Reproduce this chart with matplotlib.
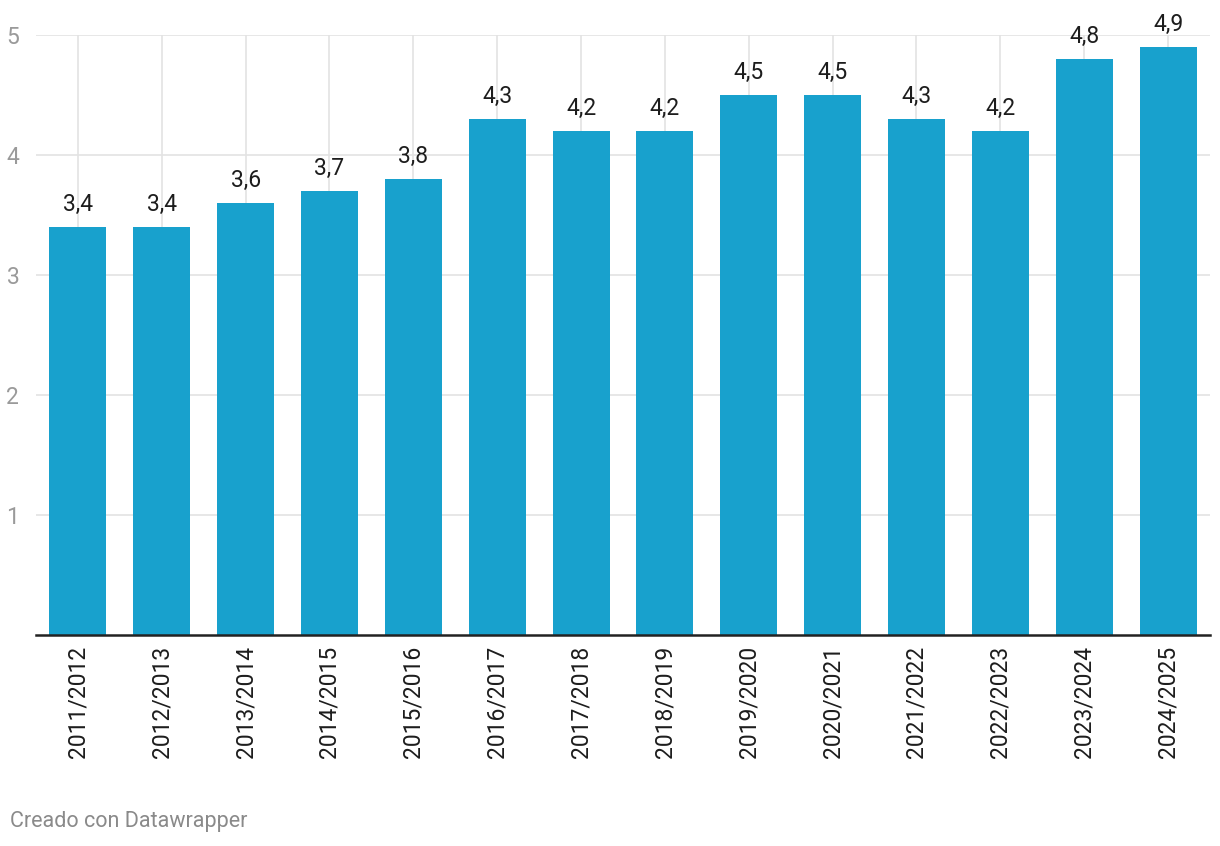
import matplotlib
matplotlib.use('Agg')
import matplotlib.pyplot as plt

seasons = ['2011/2012', '2012/2013', '2013/2014', '2014/2015', '2015/2016',
           '2016/2017', '2017/2018', '2018/2019', '2019/2020', '2020/2021',
           '2021/2022', '2022/2023', '2023/2024', '2024/2025']
values = [3.4, 3.4, 3.6, 3.7, 3.8, 4.3, 4.2, 4.2, 4.5, 4.5, 4.3, 4.2, 4.8, 4.9]
yticks = [1, 2, 3, 4, 5]

plt.rcParams['font.family'] = ['Roboto', 'DejaVu Sans']

fig = plt.figure(figsize=(12.2, 8.46), dpi=100)
ax = fig.add_axes([0.0295, 0.2494, 0.9623, 0.7092])

x = list(range(len(seasons)))
ax.bar(x, values, width=0.68, color='#18a1cd', zorder=2)

# value labels above bars
for xi, v in zip(x, values):
    ax.annotate(('%.1f' % v).replace('.', ','), (xi, v), xytext=(0, 8),
                textcoords='offset points', ha='center', va='bottom',
                fontsize=16.5, color='#1d1d1d', zorder=3)

ax.set_xlim(-0.5, len(seasons) - 0.5)
ax.set_ylim(0, 5)
ax.set_yticks(yticks)
ax.set_yticklabels([str(t) for t in yticks])
ax.set_xticks(x)
ax.set_xticklabels(seasons, rotation=90, fontsize=16.5, color='#1d1d1d')
ax.tick_params(axis='x', length=0, pad=8)
ax.tick_params(axis='y', length=0, pad=12, labelsize=16.5, labelcolor='#9a9a9a')

ax.grid(True, color='#e3e3e3', linewidth=1.2, zorder=0)
ax.set_axisbelow(True)
for s in ['top', 'right', 'left']:
    ax.spines[s].set_visible(False)
ax.spines['bottom'].set_color('#222222')
ax.spines['bottom'].set_linewidth(1.8)
ax.spines['bottom'].set_zorder(4)

fig.text(0.008, 0.016, 'Creado con Datawrapper', fontsize=15.5, color='#8a8a8a',
         ha='left', va='bottom')

plt.savefig('out.png', dpi=100)
